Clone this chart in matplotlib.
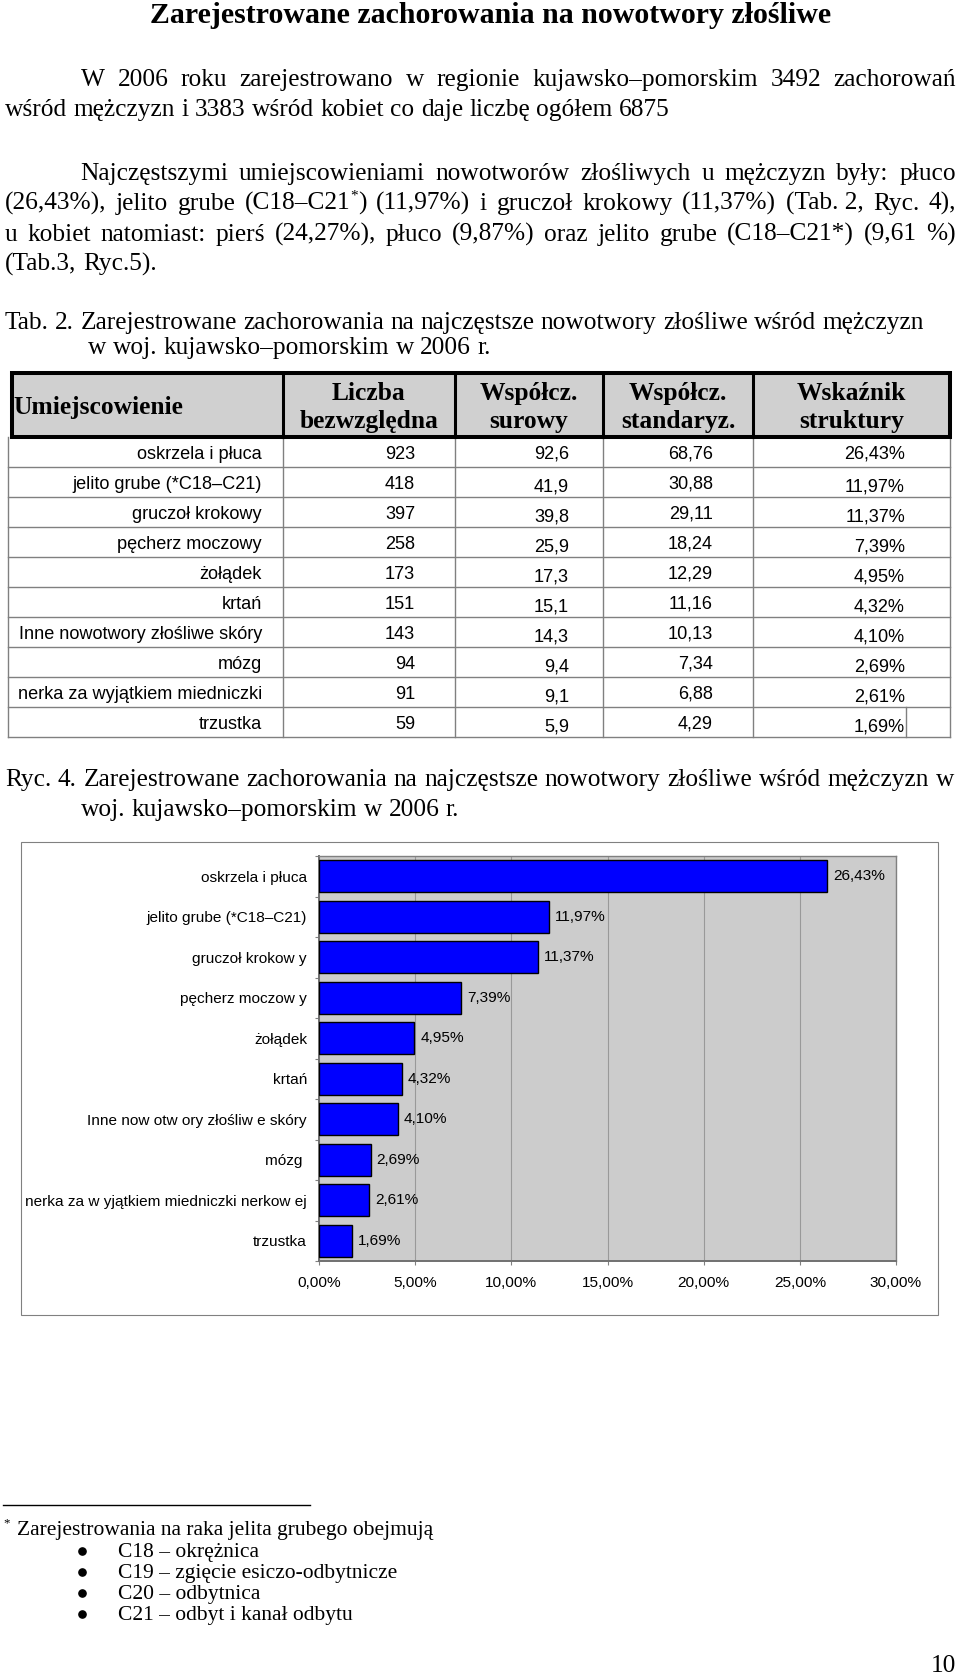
import re
import numpy as np
import matplotlib
matplotlib.use('Agg')
import matplotlib.pyplot as plt
from matplotlib.patches import Rectangle

# ------------------------------------------------------------------ data
table_sites = ["oskrzela i płuca", "jelito grube (*C18–C21)", "gruczoł krokowy",
               "pęcherz moczowy", "żołądek", "krtań", "Inne nowotwory złośliwe skóry",
               "mózg", "nerka za wyjątkiem miedniczki", "trzustka"]
counts = [923, 418, 397, 258, 173, 151, 143, 94, 91, 59]
crude_rate = [92.6, 41.9, 39.8, 25.9, 17.3, 15.1, 14.3, 9.4, 9.1, 5.9]
std_rate = [68.76, 30.88, 29.11, 18.24, 12.29, 11.16, 10.13, 7.34, 6.88, 4.29]
structure_pct = [26.43, 11.97, 11.37, 7.39, 4.95, 4.32, 4.10, 2.69, 2.61, 1.69]
table_headers = ["Umiejscowienie", "Liczba\nbezwzględna", "Współcz.\nsurowy",
                 "Współcz.\nstandaryz.", "Wskaźnik\nstruktury"]

chart_labels = ["oskrzela i płuca", "jelito grube (*C18–C21)", "gruczoł krokow y",
                "pęcherz moczow y", "żołądek", "krtań", "Inne now otw ory złośliw e skóry",
                "mózg ", "nerka za w yjątkiem miedniczki nerkow ej", "trzustka"]
x_ticks = [0, 5, 10, 15, 20, 25, 30]

title = "Zarejestrowane zachorowania na nowotwory złośliwe"
footnote_items = ["C18 – okrężnica", "C19 – zgięcie esiczo-odbytnicze",
                  "C20 – odbytnica", "C21 – odbyt i kanał odbytu"]

# ------------------------------------------------------------------ page
W, H, DPI = 960, 1675, 100
PX = DPI / 72.0
SERIF = ['Liberation Serif', 'DejaVu Serif']
SANS = ['Liberation Sans', 'DejaVu Sans']

fig = plt.figure(figsize=(W / DPI, H / DPI), dpi=DPI)
page = fig.add_axes([0, 0, 1, 1])
page.set_xlim(0, W)
page.set_ylim(H, 0)
page.axis('off')
renderer = fig.canvas.get_renderer()


def tw(s, size, family=SERIF, weight='normal'):
    t = page.text(0, 0, s, fontsize=size, family=family, weight=weight)
    w = t.get_window_extent(renderer).width
    t.remove()
    return w


def fit(s, target, family=SERIF, weight='normal'):
    return 20.0 * target / tw(s, 20.0, family, weight)


def parse_word(w):
    segs = []
    for part in re.split(r'(\{\*\})', w.replace('~', ' ')):
        if part == '':
            continue
        segs.append(('*', True) if part == '{*}' else (part, False))
    return segs


def draw_line(line, x0, y, size, x1=None, family=SERIF, weight='normal'):
    words = [parse_word(w) for w in line.split(' ')]
    seg_w = [[tw(s, size * (0.6 if sup else 1), family, weight) for s, sup in wd]
             for wd in words]
    tot = sum(sum(ws) for ws in seg_w)
    if x1 is not None and len(words) > 1:
        gap = (x1 - x0 - tot) / (len(words) - 1)
    else:
        gap = tw('a a', size, family, weight) - tw('aa', size, family, weight)
    x = x0
    for wd, ws in zip(words, seg_w):
        for (s, sup), w in zip(wd, ws):
            sz = size * (0.6 if sup else 1)
            dy = -size * PX * 0.4 if sup else 0
            page.text(x, y + dy, s, fontsize=sz, family=family, weight=weight,
                      ha='left', va='baseline', color='black')
            x += w
        x += gap


body = fit("wśród mężczyzn i 3383 wśród kobiet co daje liczbę ogółem 6875", 664)
tsize = fit(title, 679, weight='bold')

page.text(491, 23, title, fontsize=tsize, family=SERIF, weight='bold',
          ha='center', va='baseline')

L, R = 5, 956
draw_line("W 2006 roku zarejestrowano w regionie kujawsko–pomorskim 3492 zachorowań",
          81, 86, body, R)
draw_line("wśród mężczyzn i 3383 wśród kobiet co daje liczbę ogółem 6875", L, 116, body)

draw_line("Najczęstszymi umiejscowieniami nowotworów złośliwych u mężczyzn były: płuco",
          80, 180, body, R)
draw_line("(26,43%), jelito grube (C18–C21{*}) (11,97%) i gruczoł krokowy (11,37%) (Tab.~2, Ryc. 4),",
          L, 210, body, R)
draw_line("u kobiet natomiast: pierś (24,27%), płuco (9,87%) oraz jelito grube (C18–C21*) (9,61 %)",
          L, 241, body, R)
draw_line("(Tab.3, Ryc.5).", L, 271, body)

draw_line("Tab. 2. Zarejestrowane zachorowania na najczęstsze nowotwory złośliwe wśród mężczyzn",
          L, 329, body)
draw_line("w woj. kujawsko–pomorskim w 2006 r.", 88, 354, body)

draw_line("Ryc. 4. Zarejestrowane zachorowania na najczęstsze nowotwory złośliwe wśród mężczyzn w",
          L, 786, body, 954)
draw_line("woj. kujawsko–pomorskim w 2006 r.", 81, 816, body)

# ------------------------------------------------------------------ table
cols = [12, 283, 455, 603, 753, 950]
h_top, h_bot, row_h = 373, 437, 30
n = len(table_sites)
page.add_patch(Rectangle((cols[0], h_top), cols[-1] - cols[0], h_bot - h_top,
                         facecolor='#D0D0D0', edgecolor='none', zorder=1))
grid_c, grid_lw = '#808080', 1.0
body_bot = h_bot + n * row_h
for i in range(1, n + 1):
    yy = h_bot + i * row_h
    page.plot([8, cols[-1]], [yy, yy], color=grid_c, lw=grid_lw, zorder=2)
page.plot([8, 8], [h_bot, body_bot], color=grid_c, lw=grid_lw, zorder=2)
for c in cols[1:]:
    page.plot([c, c], [h_bot, body_bot], color=grid_c, lw=grid_lw, zorder=2)
page.plot([906, 906], [h_bot + (n - 1) * row_h, body_bot], color=grid_c, lw=grid_lw, zorder=2)
# header frame
for c in cols[1:-1]:
    page.plot([c, c], [h_top, h_bot], color='black', lw=2.2, zorder=3)
page.add_patch(Rectangle((cols[0], h_top), cols[-1] - cols[0], h_bot - h_top,
                         facecolor='none', edgecolor='black', lw=2.9, zorder=4))

hsize = fit("Umiejscowienie", 170, weight='bold')
page.text(13, 414, table_headers[0], fontsize=hsize, family=SERIF, weight='bold',
          ha='left', va='baseline')
for j, hdr in enumerate(table_headers[1:], start=1):
    cx = (cols[j] + cols[j + 1]) / 2
    l1, l2 = hdr.split('\n')
    page.text(cx, 400, l1, fontsize=hsize, family=SERIF, weight='bold', ha='center', va='baseline')
    page.text(cx, 428, l2, fontsize=hsize, family=SERIF, weight='bold', ha='center', va='baseline')

dsize = fit("nerka za wyjątkiem miedniczki", 244, family=SANS)
right_x = [262, 415, 569, 713, 905]
col_shift = [0, 0, 3, 0, 3]


def pl(v, d):
    return f"{v:.{d}f}".replace('.', ',')


for i in range(n):
    base = h_bot + (i + 0.5) * row_h + 0.36 * dsize * PX
    cells = [table_sites[i], str(counts[i]), pl(crude_rate[i], 1),
             pl(std_rate[i], 2), pl(structure_pct[i], 2) + '%']
    for j, s in enumerate(cells):
        dy = col_shift[j] if i > 0 else 0
        page.text(right_x[j], base + dy, s, fontsize=dsize, family=SANS,
                  ha='right', va='baseline', zorder=5)

# ------------------------------------------------------------------ chart
page.add_patch(Rectangle((21, 842), 938 - 21, 1315 - 842, facecolor='white',
                         edgecolor='#808080', lw=0.8, zorder=1))
csize = fit(chart_labels[8], 282, family=SANS)

ax = fig.add_axes([319 / W, 1 - 1261 / H, (896 - 319) / W, (1261 - 856) / H])
ax.set_facecolor('#CCCCCC')
ypos = np.arange(len(structure_pct))
ax.barh(ypos, structure_pct, height=0.78, color='#0000FF', edgecolor='black',
        linewidth=1.0, zorder=3)
ax.set_xlim(0, 30)
ax.set_ylim(len(structure_pct) - 0.5, -0.5)
ax.set_xticks(x_ticks)
ax.set_xticklabels([pl(v, 2) + '%' for v in x_ticks], fontsize=csize, family=SANS)
ax.xaxis.grid(True, color='#999999', lw=0.8, zorder=1)
ax.set_axisbelow(True)
ax.set_yticks(ypos)
ax.set_yticklabels(chart_labels, fontsize=csize, family=SANS)
ax.set_yticks(np.arange(-0.5, len(structure_pct), 1.0), minor=True)
ax.tick_params(axis='y', which='major', length=0, pad=8.6)
ax.tick_params(axis='y', which='minor', length=3, color='#808080', width=0.8)
ax.tick_params(axis='x', which='major', length=3, color='#808080', width=0.8, pad=7.5)
for side, sp in ax.spines.items():
    sp.set_color('#808080' if side in ('top', 'right') else '#707070')
    sp.set_linewidth(1.0 if side in ('top', 'right') else 1.4)
for i, v in enumerate(structure_pct):
    ax.annotate(pl(v, 2) + '%', (v, i), xytext=(4.3, 0), textcoords='offset points',
                ha='left', va='center', fontsize=csize, family=SANS)

# ------------------------------------------------------------------ footnote
fsize = fit("Zarejestrowania na raka jelita grubego obejmują", 417)
page.plot([3, 310], [1505, 1505], color='black', lw=1.0)
page.text(3, 1535 - fsize * PX * 0.4, '*', fontsize=fsize * 0.6, family=SERIF,
          ha='left', va='baseline')
page.text(17, 1535, "Zarejestrowania na raka jelita grubego obejmują", fontsize=fsize,
          family=SERIF, ha='left', va='baseline')
bullet_y = [1557 + k * 21 for k in range(len(footnote_items))]
page.plot([82] * len(bullet_y), [y - 0.3 * fsize * PX for y in bullet_y], linestyle='none',
          marker='o', markersize=5.2, color='black')
for yb, item in zip(bullet_y, footnote_items):
    page.text(118, yb, item, fontsize=fsize, family=SERIF, ha='left', va='baseline')

page.text(956, 1672, "10", fontsize=body, family=SERIF, ha='right', va='baseline')

fig.savefig('out.png', dpi=DPI)
